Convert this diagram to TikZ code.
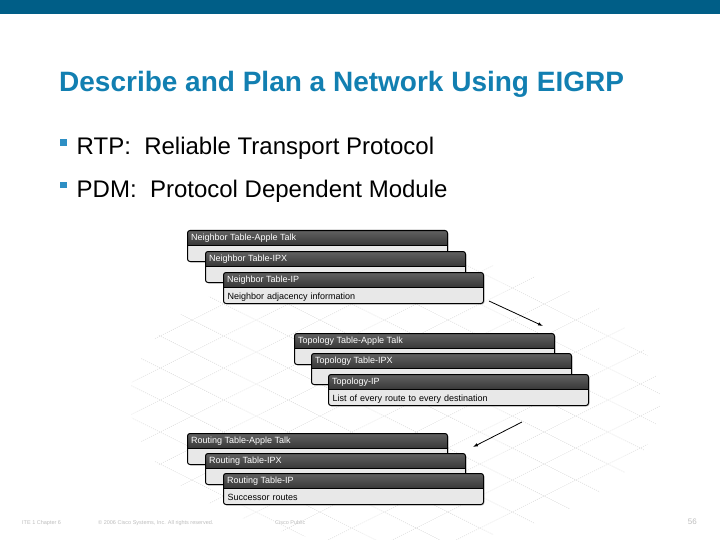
\documentclass[tikz,border=0pt]{standalone}
\usepackage{fontspec}
\setmainfont{Liberation Sans}
\usetikzlibrary{arrows.meta,positioning,shadows}
\definecolor{ciscobar}{HTML}{005E87}
\definecolor{ciscotitle}{HTML}{127FB1}
\definecolor{ciscobullet}{HTML}{2E8FC4}
\definecolor{cardgray}{HTML}{E8E8E8}
\definecolor{footgray}{HTML}{BDBDBD}

% one table card: name, top-left corner, header text, body text
\newcommand{\tablecard}[4]{%
  \node[tcard, anchor=north west] (#1) at (#2) {#4};
  \node[thead, anchor=north west] (#1h) at (#1.north west) {#3};
}

\begin{document}
\begin{tikzpicture}[
    x=1pt, y=-1pt,
    tcard/.style={rectangle, rounded corners=2.5pt, draw=black, line width=1pt,
                  fill=cardgray, text width=252pt, inner xsep=4pt, inner ysep=2.5pt,
                  text height=24pt, text depth=2pt, align=left,
                  font=\fontsize{9}{10}\selectfont,
                  drop shadow={shadow xshift=1pt, shadow yshift=-1pt, opacity=0.35},
                  path picture={
                    \shade[top color=black!62, middle color=black!85, bottom color=black!96]
                      (path picture bounding box.north west) rectangle
                      ([yshift=-15pt]path picture bounding box.north east);
                    \draw[black, line width=0.6pt]
                      ([yshift=-15pt]path picture bounding box.north west) --
                      ([yshift=-15pt]path picture bounding box.north east);
                  }},
    thead/.style={rectangle, minimum height=15pt, inner xsep=4pt, inner ysep=0pt,
                  text=white, font=\fontsize{9}{10}\selectfont},
    gridline/.style={black!17, line width=0.45pt, dash pattern=on 1pt off 1.2pt},
    flow/.style={black, line width=0.8pt, -{Latex[length=5pt, width=3.5pt]}}
  ]

  \useasboundingbox (0,0) rectangle (720,540);

  % ---- Header bar and title ----
  \fill[ciscobar] (0,0) rectangle (720,14);
  \node[anchor=base west, inner sep=0pt, text=ciscotitle,
        font=\fontsize{28}{32}\selectfont\bfseries] (title) at (59,92)
    {Describe and Plan a Network Using EIGRP};

  % ---- Bullets ----
  \node[anchor=base west, inner sep=0pt, font=\fontsize{24}{28}\selectfont]
    (rtp) at (60,155)
    {\textcolor{ciscobullet}{\rule[9pt]{6.5pt}{6.5pt}}\hspace{10pt}RTP:\ \ Reliable Transport Protocol};
  \node[anchor=base west, inner sep=0pt, font=\fontsize{24}{28}\selectfont]
    (pdm) at (60,197)
    {\textcolor{ciscobullet}{\rule[9pt]{6.5pt}{6.5pt}}\hspace{10pt}PDM:\ \ Protocol Dependent Module};

  % ---- Floor grid ----
  \begin{scope}
    \clip (395,400) ellipse [x radius=265, y radius=145];
    \foreach \c in {-384,-352,...,384}
      \draw[gridline] (100,{\c+0.5*100}) -- (720,{\c+0.5*720});
    \foreach \c in {256,288,...,1024}
      \draw[gridline] (100,{\c-0.5*100}) -- (720,{\c-0.5*720});
  \end{scope}

  % ---- Neighbor tables ----
  \tablecard{nAT}{187,230}{Neighbor Table-Apple Talk}{}
  \tablecard{nIPX}{205,251}{Neighbor Table-IPX}{}
  \tablecard{nIP}{223,272}{Neighbor Table-IP}{Neighbor adjacency information}

  % ---- Topology tables ----
  \tablecard{tAT}{294,333}{Topology Table-Apple Talk}{}
  \tablecard{tIPX}{311,353}{Topology Table-IPX}{}
  \tablecard{tIP}{328,374}{Topology-IP}{List of every route to every destination}

  % ---- Routing tables ----
  \tablecard{rAT}{187,433}{Routing Table-Apple Talk}{}
  \tablecard{rIPX}{205,453}{Routing Table-IPX}{}
  \tablecard{rIP}{223,473}{Routing Table-IP}{Successor routes}

  % ---- Arrows between table groups ----
  \draw[flow] ([shift={(5,-3)}]nIP.south east) -- ([shift={(-12,-7)}]tAT.north east);
  \draw[flow] ([shift={(-67,16)}]tIP.south east) -- ([shift={(25,14)}]rAT.north east);

  % ---- Footer ----
  \node[anchor=base west, inner sep=0pt, text=footgray, font=\fontsize{5.5}{6}\selectfont]
    (chap) at (22,524) {ITE 1 Chapter 6};
  \node[anchor=base west, inner sep=0pt, text=footgray, font=\fontsize{5.5}{6}\selectfont]
    (copy) at (98,524) {\textcopyright{} 2006 Cisco Systems, Inc. All rights reserved.};
  \node[anchor=base west, inner sep=0pt, text=footgray, font=\fontsize{5.5}{6}\selectfont]
    (pub) at (275,524) {Cisco Public};
  \node[anchor=base east, inner sep=0pt, text=footgray, font=\fontsize{8}{9}\selectfont]
    (page) at (697,524) {56};

\end{tikzpicture}
\end{document}
